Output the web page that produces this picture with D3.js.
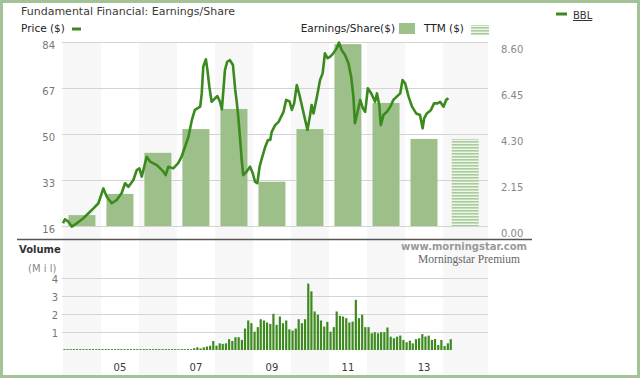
<!DOCTYPE html>
<html>
<head>
<meta charset="utf-8">
<script src="https://cdn.jsdelivr.net/npm/d3@7/dist/d3.min.js"></script>
<style>
  body { margin: 0; background: #fff; }
  svg { display: block; font-family: "DejaVu Sans", Verdana, sans-serif; }
</style>
</head>
<body>
<div id="root"></div>
<script>
// yearly earnings/share
const epsYears = [2004, 2005, 2006, 2007, 2008, 2009, 2010, 2011, 2012, 2013];
const epsValues = [0.51, 1.50, 3.42, 4.53, 5.47, 2.07, 4.53, 8.50, 5.75, 4.07];
const ttmDate = "2014-08-01";
const ttmValue = 4.07;

const priceTicks = [16, 33, 50, 67, 84];
const epsTicks = [0, 2.15, 4.30, 6.45, 8.60];
const volumeTicks = [1, 2, 3, 4];
const yearLabels = ["05", "07", "09", "11", "13"];
const yearLabelYears = [2005, 2007, 2009, 2011, 2013];

// price line (decimal year -> price)
const priceYears = [
  2004.00, 2004.05, 2004.14, 2004.23, 2004.36, 2004.53, 2004.67, 2004.80, 2004.93,
  2005.06, 2005.15, 2005.28, 2005.41, 2005.54, 2005.63, 2005.72, 2005.85, 2005.94,
  2006.01, 2006.07, 2006.20, 2006.29, 2006.47, 2006.64, 2006.70, 2006.77, 2006.90,
  2007.03, 2007.12, 2007.21, 2007.30, 2007.39, 2007.47, 2007.61, 2007.65, 2007.69,
  2007.76, 2007.80, 2007.85, 2007.91, 2008.00, 2008.06, 2008.13, 2008.18, 2008.22,
  2008.26, 2008.32, 2008.39, 2008.47, 2008.53, 2008.57, 2008.61, 2008.66, 2008.70,
  2008.74, 2008.83, 2008.92, 2008.99, 2009.05, 2009.11, 2009.17, 2009.23, 2009.32,
  2009.39, 2009.45, 2009.49, 2009.58, 2009.67, 2009.80, 2009.87, 2009.96, 2010.02,
  2010.08, 2010.15, 2010.22, 2010.28, 2010.37, 2010.43, 2010.50, 2010.54, 2010.59,
  2010.68, 2010.76, 2010.83, 2010.89, 2010.96, 2011.03, 2011.11, 2011.20, 2011.26,
  2011.33, 2011.42, 2011.51, 2011.58, 2011.64, 2011.68, 2011.74, 2011.82, 2011.89,
  2011.95, 2012.02, 2012.11, 2012.21, 2012.26, 2012.32, 2012.36, 2012.43, 2012.52,
  2012.61, 2012.69, 2012.78, 2012.87, 2012.93, 2013.00, 2013.09, 2013.18, 2013.29,
  2013.39, 2013.46, 2013.50, 2013.57, 2013.68, 2013.76, 2013.85, 2013.92, 2014.01,
  2014.08, 2014.14
];
const prices = [
  17.0, 18.5, 17.6, 15.8, 17.0, 18.8, 20.7, 22.5, 24.4,
  29.9, 26.8, 24.4, 25.6, 28.1, 31.8, 30.5, 33.0, 36.7,
  37.3, 34.2, 41.6, 39.8, 38.5, 36.1, 34.8, 37.9, 37.3,
  39.2, 41.6, 45.3, 49.0, 55.2, 58.9, 60.1, 65.0, 74.9,
  77.6, 73.6, 67.5, 61.9, 63.2, 64.0, 61.9, 59.1, 66.3,
  73.6, 76.7, 77.3, 75.5, 66.3, 61.9, 56.4, 47.8, 40.4,
  34.8, 36.1, 37.9, 35.5, 32.4, 31.8, 37.9, 41.0, 45.3,
  47.8, 47.8, 50.8, 53.3, 54.5, 58.2, 62.6, 62.0, 58.9,
  61.3, 68.1, 64.4, 60.7, 55.2, 51.5, 57.0, 60.7, 57.6,
  63.8, 69.9, 72.4, 79.8, 78.0, 78.6, 79.8, 81.7, 83.8,
  81.0, 79.2, 76.1, 71.2, 63.8, 54.0, 57.6, 62.6, 59.5,
  58.2, 66.9, 65.0, 61.9, 65.0, 60.7, 53.3, 57.0, 58.2,
  60.1, 62.6, 63.8, 65.0, 69.9, 68.7, 63.8, 60.1, 57.6,
  57.0, 52.1, 55.8, 57.6, 58.9, 61.3, 61.3, 61.9, 60.1,
  62.6, 63.2
];

// monthly volume in millions, starting January 2004
const volumeStart = "2004-01-15";
const volumes = [
  0.05, 0.05, 0.05, 0.05, 0.05, 0.05, 0.05, 0.05, 0.05, 0.05, 0.05, 0.05,
  0.05, 0.05, 0.05, 0.05, 0.05, 0.05, 0.05, 0.05, 0.05, 0.05, 0.05, 0.05,
  0.05, 0.05, 0.05, 0.05, 0.05, 0.05, 0.05, 0.05, 0.05, 0.05, 0.05, 0.05,
  0.05, 0.05, 0.05, 0.05, 0.05, 0.10,
  0.15, 0.09, 0.15, 0.19, 0.24, 0.50, 0.24, 0.37, 0.34, 0.37, 0.60, 0.50,
  0.71, 0.71, 0.56, 1.19, 1.64, 1.49, 1.02, 1.27, 1.71, 1.64, 1.53, 1.45,
  2.01, 1.40, 1.86, 1.49, 1.64, 1.15, 1.08, 1.19, 1.71, 1.49, 1.71, 3.69,
  3.26, 2.14, 1.96,
  1.64, 1.30, 1.56, 1.02, 1.27, 2.14, 1.90, 1.86, 1.77, 1.53, 1.58, 2.79,
  1.77, 1.96, 1.27, 1.27, 0.93, 0.99, 0.93, 0.99, 0.99, 1.25, 0.74, 0.65,
  0.74, 0.80, 0.56, 0.43, 0.52, 0.37, 0.60, 0.65, 0.88, 0.75, 0.80, 0.56,
  0.61, 0.28, 0.56, 0.22, 0.37, 0.60
];

const W = 640, H = 378;
const left = 62, right = 488;
const priceTop = 42, priceBottom = 226;
const volTop = 278, volBottom = 350;

const green = "#3b8a1e";
const barGreen = "#9dc08a";

const yearStart = y => new Date(Date.UTC(y, 0, 1));
const fromDecimal = v => {
  const y = Math.floor(v);
  const a = yearStart(y), b = yearStart(y + 1);
  return new Date(+a + (v - y) * (b - a));
};

const svg = d3.select("#root").append("svg").attr("width", W).attr("height", H);

const defs = svg.append("defs");
const pat = defs.append("pattern").attr("id", "ttm")
  .attr("patternUnits", "userSpaceOnUse").attr("width", 6).attr("height", 3);
pat.append("rect").attr("width", 6).attr("height", 3).attr("fill", "#eef5ea");
pat.append("rect").attr("width", 6).attr("height", 1.6).attr("fill", "#a9cc9a");

const x = d3.scaleUtc()
  .domain([yearStart(2004), new Date(Date.UTC(2015, 2, 8))])
  .range([63, right]);
const yPrice = d3.scaleLinear().domain([16, 84]).range([priceBottom, priceTop]);
const yEps = d3.scaleLinear().domain([0, 8.6]).range([priceBottom, priceTop]);
const yVol = d3.scaleLinear().domain([0, 4]).range([volBottom, volTop]);

// outer frame
svg.append("rect").attr("x", 1.5).attr("y", 1.5).attr("width", W - 3).attr("height", H - 3)
  .attr("fill", "#fff").attr("stroke", "#a3c396").attr("stroke-width", 3);

// alternating year bands
const bandYears = epsYears.concat([2014]);
svg.append("g").selectAll("rect")
  .data(bandYears.filter((d, i) => i % 2 === 0))
  .join("rect")
  .attr("x", d => x(yearStart(d)))
  .attr("width", d => d === 2014 ? right - x(yearStart(d)) : x(yearStart(d + 1)) - x(yearStart(d)))
  .attr("y", priceTop)
  .attr("height", 375 - priceTop)
  .attr("fill", "#f7f7f7");

// price gridlines
svg.append("g").selectAll("line").data(priceTicks).join("line")
  .attr("x1", left).attr("x2", right)
  .attr("y1", d => yPrice(d) + 0.5).attr("y2", d => yPrice(d) + 0.5)
  .attr("stroke", "#d4d4d4").attr("stroke-width", 1.2);

// volume gridlines
svg.append("g").selectAll("line").data(volumeTicks).join("line")
  .attr("x1", left).attr("x2", right)
  .attr("y1", d => yVol(d) + 0.5).attr("y2", d => yVol(d) + 0.5)
  .attr("stroke", "#d4d4d4").attr("stroke-width", 1.2);

// EPS bars
const barW = 27;
svg.append("g").selectAll("rect").data(epsYears).join("rect")
  .attr("x", d => x(new Date(Date.UTC(d, 6, 1))) - barW / 2)
  .attr("width", barW)
  .attr("y", (d, i) => yEps(epsValues[i]))
  .attr("height", (d, i) => priceBottom - yEps(epsValues[i]))
  .attr("fill", barGreen);

// TTM bar
svg.append("rect")
  .attr("x", x(new Date(ttmDate)) - barW / 2)
  .attr("width", barW)
  .attr("y", yEps(ttmValue))
  .attr("height", priceBottom - yEps(ttmValue))
  .attr("fill", "url(#ttm)");

// price line
const line = d3.line()
  .x((d, i) => x(fromDecimal(priceYears[i])))
  .y(d => yPrice(d));
svg.append("path").datum(prices)
  .attr("d", line)
  .attr("fill", "none")
  .attr("stroke", green)
  .attr("stroke-width", 2.6)
  .attr("stroke-linejoin", "round");

// volume bars
const v0 = new Date(volumeStart);
svg.append("g").selectAll("rect").data(volumes).join("rect")
  .attr("x", (d, i) => x(d3.utcMonth.offset(v0, i)) - 1.1)
  .attr("width", 2.2)
  .attr("y", d => yVol(d))
  .attr("height", d => volBottom - yVol(d))
  .attr("fill", "#3d8a1f");

// axis line between panels
svg.append("line").attr("x1", 17).attr("x2", 532).attr("y1", 239.5).attr("y2", 239.5)
  .attr("stroke", "#555").attr("stroke-width", 1.4);

// left price labels
svg.append("g").selectAll("text").data(priceTicks).join("text")
  .attr("x", 55).attr("y", d => yPrice(d) + 7)
  .attr("text-anchor", "end")
  .attr("font-size", 10).attr("fill", "#777")
  .text(d => d);

// right eps labels
svg.append("g").selectAll("text").data(epsTicks).join("text")
  .attr("x", 501).attr("y", d => yEps(d) + 11)
  .attr("font-size", 10).attr("fill", "#888")
  .text(d => d.toFixed(2));

// volume labels
svg.append("g").selectAll("text").data(volumeTicks).join("text")
  .attr("x", 58).attr("y", d => yVol(d) + 5)
  .attr("text-anchor", "end")
  .attr("font-size", 10).attr("fill", "#777")
  .text(d => d);

// year labels
svg.append("g").selectAll("text").data(yearLabels).join("text")
  .attr("x", (d, i) => x(new Date(Date.UTC(yearLabelYears[i], 6, 1))))
  .attr("y", 371)
  .attr("text-anchor", "middle")
  .attr("font-size", 10).attr("fill", "#3a3a3a")
  .text(d => d);

// header texts
svg.append("text").attr("x", 21).attr("y", 15).attr("font-size", 11).attr("fill", "#3a3a3a")
  .text("Fundamental Financial: Earnings/Share");
svg.append("text").attr("x", 21).attr("y", 32).attr("font-size", 10.5).attr("fill", "#222")
  .text("Price ($)");
svg.append("rect").attr("x", 72).attr("y", 27.5).attr("width", 9).attr("height", 3).attr("fill", green);

svg.append("text").attr("x", 395).attr("y", 32).attr("text-anchor", "end")
  .attr("font-size", 10.5).attr("fill", "#222").text("Earnings/Share($)");
svg.append("rect").attr("x", 399).attr("y", 23).attr("width", 16).attr("height", 11).attr("fill", barGreen);
svg.append("text").attr("x", 424).attr("y", 32)
  .attr("font-size", 10.5).attr("fill", "#222").text("TTM ($)");
svg.append("rect").attr("x", 471).attr("y", 25).attr("width", 18).attr("height", 10).attr("fill", "url(#ttm)");

// ticker legend
svg.append("rect").attr("x", 556).attr("y", 12.5).attr("width", 11).attr("height", 3).attr("fill", green);
svg.append("text").attr("x", 573).attr("y", 19).attr("font-size", 10).attr("fill", "#333")
  .attr("text-decoration", "underline").text("BBL");

// volume titles
svg.append("text").attr("x", 19).attr("y", 253).attr("font-size", 10).attr("font-weight", "bold")
  .attr("fill", "#333").text("Volume");
svg.append("text").attr("x", 28).attr("y", 272).attr("font-size", 10).attr("fill", "#888")
  .text("(M i l)");

// watermark
svg.append("text").attr("x", 527).attr("y", 250).attr("text-anchor", "end")
  .attr("font-size", 10).attr("font-weight", "bold").attr("fill", "#999")
  .text("www.morningstar.com");
svg.append("text").attr("x", 520).attr("y", 263).attr("text-anchor", "end")
  .attr("font-family", "'Liberation Serif', 'DejaVu Serif', serif")
  .attr("font-size", 11.5).attr("fill", "#666")
  .text("Morningstar Premium");
</script>
</body>
</html>
